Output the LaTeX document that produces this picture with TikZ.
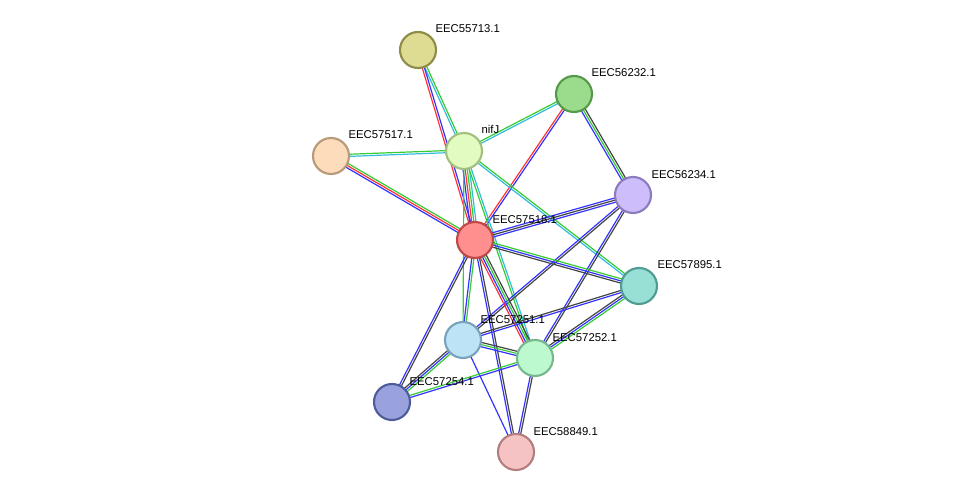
\documentclass[tikz,border=0pt]{standalone}
\usepackage{fontspec}
\setmainfont{Liberation Sans}
\usetikzlibrary{calc,backgrounds}
\definecolor{eblue}{HTML}{3333FF}
\definecolor{ered}{HTML}{FF3333}
\definecolor{egreen}{HTML}{33CC33}
\definecolor{ecyan}{HTML}{33BBDD}
\definecolor{eblack}{HTML}{444444}
\definecolor{fa}{HTML}{DEDC92}\definecolor{da}{HTML}{8E8C48}
\definecolor{fb}{HTML}{9ADB8C}\definecolor{db}{HTML}{55994A}
\definecolor{fc}{HTML}{FDDCBC}\definecolor{dc}{HTML}{B89A7A}
\definecolor{fn}{HTML}{E2FBC0}\definecolor{dn}{HTML}{A4C080}
\definecolor{fd}{HTML}{CDBDFA}\definecolor{dd}{HTML}{8C7CBE}
\definecolor{fr}{HTML}{FF8E8E}\definecolor{dr}{HTML}{C04848}
\definecolor{fe}{HTML}{98DFD5}\definecolor{de}{HTML}{4E9C92}
\definecolor{ff}{HTML}{BDE3F7}\definecolor{df}{HTML}{7AA2BC}
\definecolor{fg}{HTML}{BCF9CF}\definecolor{dg}{HTML}{78B890}
\definecolor{fh}{HTML}{99A2DD}\definecolor{dh}{HTML}{4F5C9C}
\definecolor{fi}{HTML}{F5C3C3}\definecolor{di}{HTML}{B47E7E}
\newcommand{\edgeab}[4]{% from, to, count, colors
  \foreach \c [count=\i] in {#4} {
    \pgfmathsetmacro{\off}{(\i-(#3+1)/2)*1.6}
    \draw[\c, line width=0.9pt] ($(#1)!\off pt!90:(#2)$) -- ($(#2)!\off pt!-90:(#1)$);
  }}
\begin{document}
\begin{tikzpicture}[x=0.75pt,y=-0.75pt,
  prot/.style={circle, minimum size=27pt, inner sep=0pt, line width=1.6pt},
  lab/.style={font=\fontsize{8.5pt}{10pt}\selectfont, anchor=south west, inner sep=1pt}]
\useasboundingbox (0,0) rectangle (975,498);
\node[prot, fill=fa, draw=da] (a) at (418,50) {};
\node[prot, fill=fb, draw=db] (b) at (574,94) {};
\node[prot, fill=fc, draw=dc] (c) at (331,156) {};
\node[prot, fill=fn, draw=dn] (n) at (464,151) {};
\node[prot, fill=fd, draw=dd] (d) at (633,195) {};
\node[prot, fill=fr, draw=dr] (r) at (475,240) {};
\node[prot, fill=fe, draw=de] (e) at (639,286) {};
\node[prot, fill=ff, draw=df] (f) at (463,340) {};
\node[prot, fill=fg, draw=dg] (g) at (535,358) {};
\node[prot, fill=fh, draw=dh] (h) at (392,402) {};
\node[prot, fill=fi, draw=di] (i) at (516,452) {};
\begin{scope}[on background layer]
\edgeab{a}{n}{2}{ecyan,egreen}
\edgeab{a}{r}{2}{ered,eblue}
\edgeab{b}{n}{2}{egreen,ecyan}
\edgeab{b}{r}{2}{ered,eblue}
\edgeab{b}{d}{3}{eblue,egreen,eblack}
\edgeab{c}{n}{2}{ecyan,egreen}
\edgeab{c}{r}{3}{eblue,ered,egreen}
\edgeab{n}{r}{4}{eblue,ered,egreen,ecyan}
\edgeab{n}{e}{2}{ecyan,egreen}
\edgeab{n}{g}{2}{egreen,ecyan}
\edgeab{n}{f}{1}{egreen}
\edgeab{d}{r}{3}{eblue,eblack,eblue}
\edgeab{d}{f}{2}{eblue,eblack}
\edgeab{d}{g}{2}{eblue,eblack}
\edgeab{r}{e}{3}{eblack,eblue,egreen}
\edgeab{r}{g}{4}{ered,eblue,egreen,eblack}
\edgeab{r}{f}{2}{eblue,egreen}
\edgeab{r}{h}{2}{eblue,eblack}
\edgeab{r}{i}{2}{eblue,eblack}
\edgeab{e}{f}{2}{eblack,eblue}
\edgeab{e}{g}{3}{eblack,eblue,egreen}
\edgeab{f}{g}{3}{eblue,egreen,eblack}
\edgeab{f}{h}{3}{eblack,eblue,egreen}
\edgeab{f}{i}{1}{eblue}
\edgeab{g}{i}{2}{eblue,eblack}
\edgeab{g}{h}{2}{egreen,eblue}
\end{scope}
\node[lab] at (434,34) {EEC55713.1};
\node[lab] at (590,78) {EEC56232.1};
\node[lab] at (347,140) {EEC57517.1};
\node[lab] at (480,135) {nifJ};
\node[lab] at (650,180) {EEC56234.1};
\node[lab] at (491,225) {EEC57518.1};
\node[lab] at (656,270) {EEC57895.1};
\node[lab] at (479,325) {EEC57251.1};
\node[lab] at (551,343) {EEC57252.1};
\node[lab] at (408,387) {EEC57254.1};
\node[lab] at (532,437) {EEC58849.1};
\end{tikzpicture}
\end{document}
